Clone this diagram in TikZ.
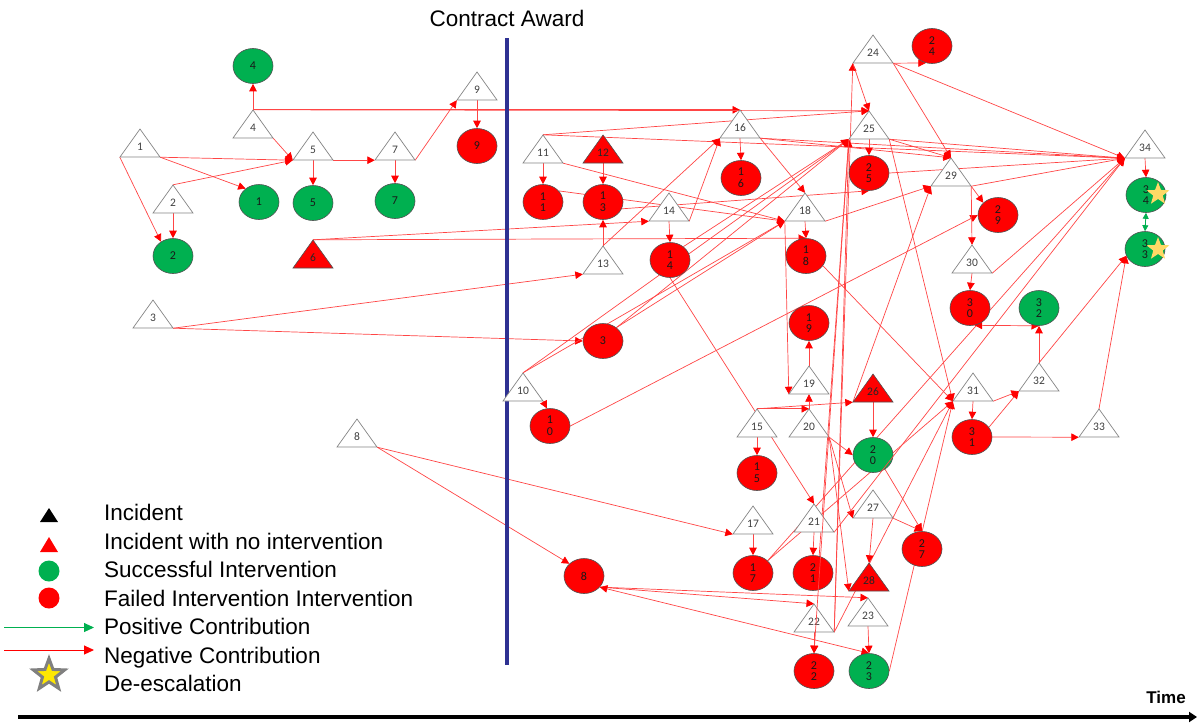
\documentclass[tikz,border=0pt]{standalone}
\usepackage{fontspec}
\setmainfont{Liberation Sans}
\newfontfamily\calfont{Carlito}
\usetikzlibrary{arrows.meta,shapes.geometric}
\definecolor{okgreen}{HTML}{00B050}
\definecolor{navy}{HTML}{2E3192}
\definecolor{trigray}{HTML}{858585}
\definecolor{outl}{HTML}{505050}
\definecolor{labgray}{HTML}{404040}
\definecolor{linered}{HTML}{FF4545}
\definecolor{stary}{HTML}{FFD966}
\pgfdeclarelayer{bg}
\pgfsetlayers{bg,main}
\tikzset{
  tribox/.style={rectangle, minimum width=40pt, minimum height=28pt, inner sep=0pt,
    font=\calfont\fontsize{11.5}{12}\selectfont, text=labgray},
  plaintri/.style={draw=trigray, line width=0.7pt, fill=white},
  redtri/.style={draw=outl, line width=0.6pt, fill=red},
  oval/.style={ellipse, minimum width=40pt, minimum height=35pt, inner sep=0pt,
    draw=outl, line width=0.6pt, align=center,
    font=\calfont\fontsize{12}{11.7}\selectfont, text=black!90},
  failed/.style={oval, fill=red},
  success/.style={oval, fill=okgreen},
  neg/.style={draw=linered, line width=0.7pt, -{Triangle[length=7.5pt,width=7.5pt,color=red]}},
  negboth/.style={draw=linered, line width=0.7pt, {Triangle[length=7.5pt,width=7.5pt,color=red]}-{Triangle[length=7.5pt,width=7.5pt,color=red]}},
  posboth/.style={draw=okgreen, line width=0.8pt, {Triangle[length=6pt,width=6pt]}-{Triangle[length=6pt,width=6pt]}},
  legtext/.style={anchor=base west, font=\fontsize{22.5}{26}\selectfont, inner sep=0pt},
  badge/.style={star, star points=5, star point ratio=2.4, inner sep=0pt, minimum size=24pt, fill=stary},
}
% incident triangle: [style]{name}{apex x}{base y}{label}
\newcommand\incident[5][plaintri]{%
  \path[#1] (#3-20,#4) -- (#3,#4-28) -- (#3+20,#4) -- cycle;
  \node[tribox] (#2) at (#3,#4-14) {\raisebox{-7.1pt}[0pt][0pt]{#5}};
}
% incident without intervention: red triangle with dark label
\newcommand\redincident[4]{%
  \path[redtri] (#2-20,#3) -- (#2,#3-28) -- (#2+20,#3) -- cycle;
  \node[tribox, text=black!85] (#1) at (#2,#3-14) {\raisebox{-7.1pt}[0pt][0pt]{#4}};
}
\begin{document}
\begin{tikzpicture}[x=1pt,y=-1pt]
\useasboundingbox (0,0) rectangle (1199,724);

% contract award marker
\node[font=\fontsize{22.5}{26}\selectfont, inner sep=0pt] (award) at (507,18) {Contract Award};
\coordinate (awtop) at (507,38);
\coordinate (awbot) at (507,665);
\draw[navy, line width=3.5pt] (awtop) -- (awbot);

% time axis
\coordinate (tstart) at (18,717);
\coordinate (tend) at (1197,717);
\draw[line width=4pt, -{Triangle[length=8pt,width=10pt]}] (tstart) -- (tend);
\node[font=\bfseries\fontsize{17}{20}\selectfont, inner sep=0pt] (timelbl) at (1166,697) {Time};

% incidents
\incident{t1}{140}{157}{1}
\incident{t2}{173}{213}{2}
\incident{t3}{153}{328}{3}
\incident{t4}{253}{138}{4}
\incident{t5}{313}{160}{5}
\redincident{t6}{313}{268}{6}
\incident{t7}{395}{160}{7}
\incident{t8}{357}{447}{8}
\incident{t9}{477}{100}{9}
\incident{t10}{523}{401}{10}
\incident{t11}{543}{163}{11}
\redincident{t12}{603}{163}{12}
\incident{t13}{603}{274}{13}
\incident{t14}{669}{221}{14}
\incident{t15}{757}{437}{15}
\incident{t16}{740}{138}{16}
\incident{t17}{753}{534}{17}
\incident{t18}{805}{221}{18}
\incident{t19}{809}{394}{19}
\incident{t20}{809}{437}{20}
\incident{t21}{814}{532}{21}
\incident{t22}{814}{632}{22}
\incident{t23}{868}{626}{23}
\incident{t24}{873}{63}{24}
\incident{t25}{869}{139}{25}
\redincident{t26}{873}{402}{26}
\incident{t27}{873}{518}{27}
\redincident{t28}{869}{591}{28}
\incident{t29}{951}{186}{29}
\incident{t30}{972}{273}{30}
\incident{t31}{973}{401}{31}
\incident{t32}{1039}{391}{32}
\incident{t33}{1099}{437}{33}
\incident{t34}{1145}{158}{34}

% interventions
\node[success] (e1) at (259,202) {1};
\node[success] (e2) at (173,256) {2};
\node[failed] (e3) at (603,341) {3};
\node[success] (e4) at (253,66) {4};
\node[success] (e5) at (313,203) {5};
\node[success] (e7) at (395,201) {7};
\node[failed] (e8) at (584,576) {8};
\node[failed] (e9) at (477,146) {9};
\node[failed] (e10) at (550,426) {1\\0};
\node[failed] (e11) at (543,202) {1\\1};
\node[failed] (e13) at (603,202) {1\\3};
\node[failed] (e14) at (670,260) {1\\4};
\node[failed] (e15) at (757,473) {1\\5};
\node[failed] (e16) at (741,178) {1\\6};
\node[failed] (e17) at (753,573) {1\\7};
\node[failed] (e18) at (806,256) {1\\8};
\node[failed] (e19) at (809,323) {1\\9};
\node[success] (e20) at (873,455) {2\\0};
\node[failed] (e21) at (813,573) {2\\1};
\node[failed] (e22) at (814,671) {2\\2};
\node[success] (e23) at (869,671) {2\\3};
\node[failed] (e24) at (932,46) {2\\4};
\node[failed] (e25) at (869,173) {2\\5};
\node[failed] (e27) at (922,549) {2\\7};
\node[failed] (e29) at (998,215) {2\\9};
\node[failed] (e30) at (970,308) {3\\0};
\node[failed] (e31) at (972,437) {3\\1};
\node[success] (e32) at (1039,308) {3\\2};
\node[success] (e33) at (1145,249) {3\\3};
\node[success] (e34) at (1146,195) {3\\4};
\node[badge] (s34) at (1158,194) {};
\node[badge] (s33) at (1158,249) {};

% negative contributions, drawn under the shapes
\begin{pgfonlayer}{bg}
\draw[neg] (e23.east) -- (t31.south west);
\draw[neg] (t22.south east) -- (t31.south west);

\draw[neg] (t1.south east) -- (t5.south west);
\draw[neg] (t1.south east) -- (e1.135);
\draw[neg] (t1.south west) -- (e2.130);
\draw[neg] (t2.north) -- (t5.south west);
\draw[neg] (t2.south) -- (e2.north);
\draw[neg] (t3.south east) -- (t13.south west);
\draw[neg] (t3.south east) -- (e3.west);
\draw[neg] (t4.north) -- (e4.south);
\draw[neg] (t4.north) -- (t16.north);
\draw[neg] (t4.north) -- (t25.north);
\draw[neg] (t4.south east) -- (t5.south west);
\draw[neg] (t5.south east) -- (t7.south west);
\draw[neg] (t5.south) -- (e5.north);
\draw[neg] (t7.south) -- (e7.north);
\draw[neg] (t7.south east) -- (t9.south west);
\draw[neg] (t9.south) -- (e9.north);
\draw[neg] (t6.north) -- (t14.south west);
\draw[neg] (t6.north) -- (e18.north);
\draw[neg] (t8.south east) -- (t17.south west);
\draw[neg] (t8.south east) -- (e8.140);

\draw[neg] (t11.south) -- (e11.north);
\draw[neg] (t11.north) -- (t25.north);
\draw[neg] (t11.north) -- (t34.south west);
\draw[neg] (t11.south east) -- (t18.south west);
\draw[neg] (e11.35) -- (t18.south west);
\draw[neg] (t12.south) -- (e13.north);
\draw[neg] (t13.north) -- (e13.south);
\draw[neg] (t13.north) -- (t16.south west);
\draw[neg] (e13.-20) -- (e25.south);
\draw[neg] (t14.south) -- (e14.north);
\draw[neg] (t14.south east) -- (t16.south west);
\draw[neg] (t16.south) -- (e16.north);
\draw[neg] (t16.south east) -- (t18.north);
\draw[neg] (t16.south east) -- (t29.north);
\draw[neg] (t16.south east) -- (t34.south west);
\draw[neg] (e3.45) -- (t18.south west);
\draw[neg] (e3.45) -- (t25.south west);
\draw[neg] (t10.north) -- (t18.south west);
\draw[neg] (t10.north) -- (t25.south west);
\draw[neg] (t10.south east) -- (e10.100);
\draw[neg] (e10.east) -- (e29.west);
\draw[neg] (e14.45) -- (t25.south west);
\draw[neg] (e14.south) -- (t21.north);
\draw[neg] (t18.south) -- (e18.north);
\draw[neg] (t18.south west) -- (t19.south west);
\draw[neg] (t18.south east) -- (t29.south west);
\draw[neg] (e18.-30) -- (t31.south west);
\draw[neg] (t19.north) -- (e19.south);
\draw[neg] (t15.north) -- (t20.north);
\draw[neg] (t15.north) -- (t26.south west);
\draw[neg] (t15.south) -- (e15.north);
\draw[neg] (t20.north) -- (t19.south);
\draw[neg] (t20.south east) -- (e20.west);
\draw[neg] (t20.south east) -- (t27.south west);
\draw[neg] (t20.south east) -- (t28.south west);
\draw[neg] (t26.south) -- (e20.north);
\draw[neg] (t26.south west) -- (t29.south west);
\draw[neg] (e20.-50) -- (e27.north);
\draw[neg] (t27.south east) -- (e27.north);
\draw[neg] (t27.south) -- (t28.north);
\draw[neg] (t21.south) -- (e21.north);
\draw[neg] (e21.70) -- (t25.south west);
\draw[neg] (t17.south) -- (e17.north);
\draw[neg] (e17.40) -- (t31.south west);
\draw[neg] (e17.40) -- (t34.south west);
\draw[neg] (t22.south) -- (e22.north);
\draw[neg] (t22.south east) -- (t24.south west);
\draw[neg] (t22.south east) -- (t25.south west);
\draw[neg] (t23.south) -- (e23.north);
\draw[neg] (e8.-35) -- (t22.north);
\draw[neg] (e8.-35) -- (t23.north);
\draw[negboth] (e8.-35) -- (e23.north);

\draw[neg] (t24.south east) -- (e24.250);
\draw[neg] (t24.south east) -- (t29.north);
\draw[neg] (t24.south east) -- (t34.south west);
\draw[neg] (t24.south west) -- (t25.north);
\draw[neg] (t25.south) -- (e25.north);
\draw[neg] (t25.south east) -- (t29.north);
\draw[neg] (t25.south east) -- (t34.south west);
\draw[neg] (t25.south east) -- (t31.south west);
\draw[neg] (e25.east) -- (t34.south west);
\draw[neg] (t29.south east) -- (e29.140);
\draw[neg] (t29.south east) -- (t30.north);
\draw[neg] (t29.south east) -- (t34.south west);
\draw[neg] (t30.south) -- (e30.north);
\draw[neg] (t30.south east) -- (t34.south west);
\draw[negboth] (e30.-75) -- (e32.south);
\draw[neg] (t31.south) -- (e31.north);
\draw[neg] (t31.south east) -- (t32.south west);
\draw[neg] (e31.30) -- (t32.south west);
\draw[neg] (e31.east) -- (t33.south west);
\draw[neg] (t32.north) -- (e32.south);
\draw[neg] (t32.north) -- (e33.200);
\draw[neg] (t33.north) -- (e33.200);
\draw[neg] (t34.south) -- (e34.north);
\end{pgfonlayer}

% links drawn across the shapes they pass
\draw[neg] (t21.south east) -- (t34.south west);
\draw[neg] (t25.south west) -- (e22.north);

% positive contribution
\draw[posboth] (e34.south) -- (e33.north);

% legend
\path[fill=black] (40,522) -- (49,508) -- (58,522) -- cycle;
\path[fill=red] (40,552) -- (49,537) -- (58,552) -- cycle;
\path[fill=okgreen] (49,571) circle (10.5);
\path[fill=red] (49,598) circle (10.5);
\coordinate (pa) at (4,627.5);
\coordinate (pb) at (94,627.5);
\draw[okgreen, line width=1pt, -{Triangle[length=10pt,width=9pt]}] (pa) -- (pb);
\coordinate (na) at (4,650);
\coordinate (nb) at (94,650);
\draw[red, line width=1pt, -{Triangle[length=10pt,width=9pt]}] (na) -- (nb);
\node[star, star points=5, star point ratio=2.4, inner sep=0pt, minimum size=33pt,
  draw=gray, line width=3pt, fill=yellow!90!orange] (legstar) at (49,675) {};

\node[legtext] (l1) at (104,520) {Incident};
\node[legtext] (l2) at (104,549.5) {Incident with no intervention};
\node[legtext] (l3) at (104,577) {Successful Intervention};
\node[legtext] (l4) at (104,606) {Failed Intervention Intervention};
\node[legtext] (l5) at (104,634.5) {Positive Contribution};
\node[legtext] (l6) at (104,663) {Negative Contribution};
\node[legtext] (l7) at (104,691) {De-escalation};
\end{tikzpicture}
\end{document}
